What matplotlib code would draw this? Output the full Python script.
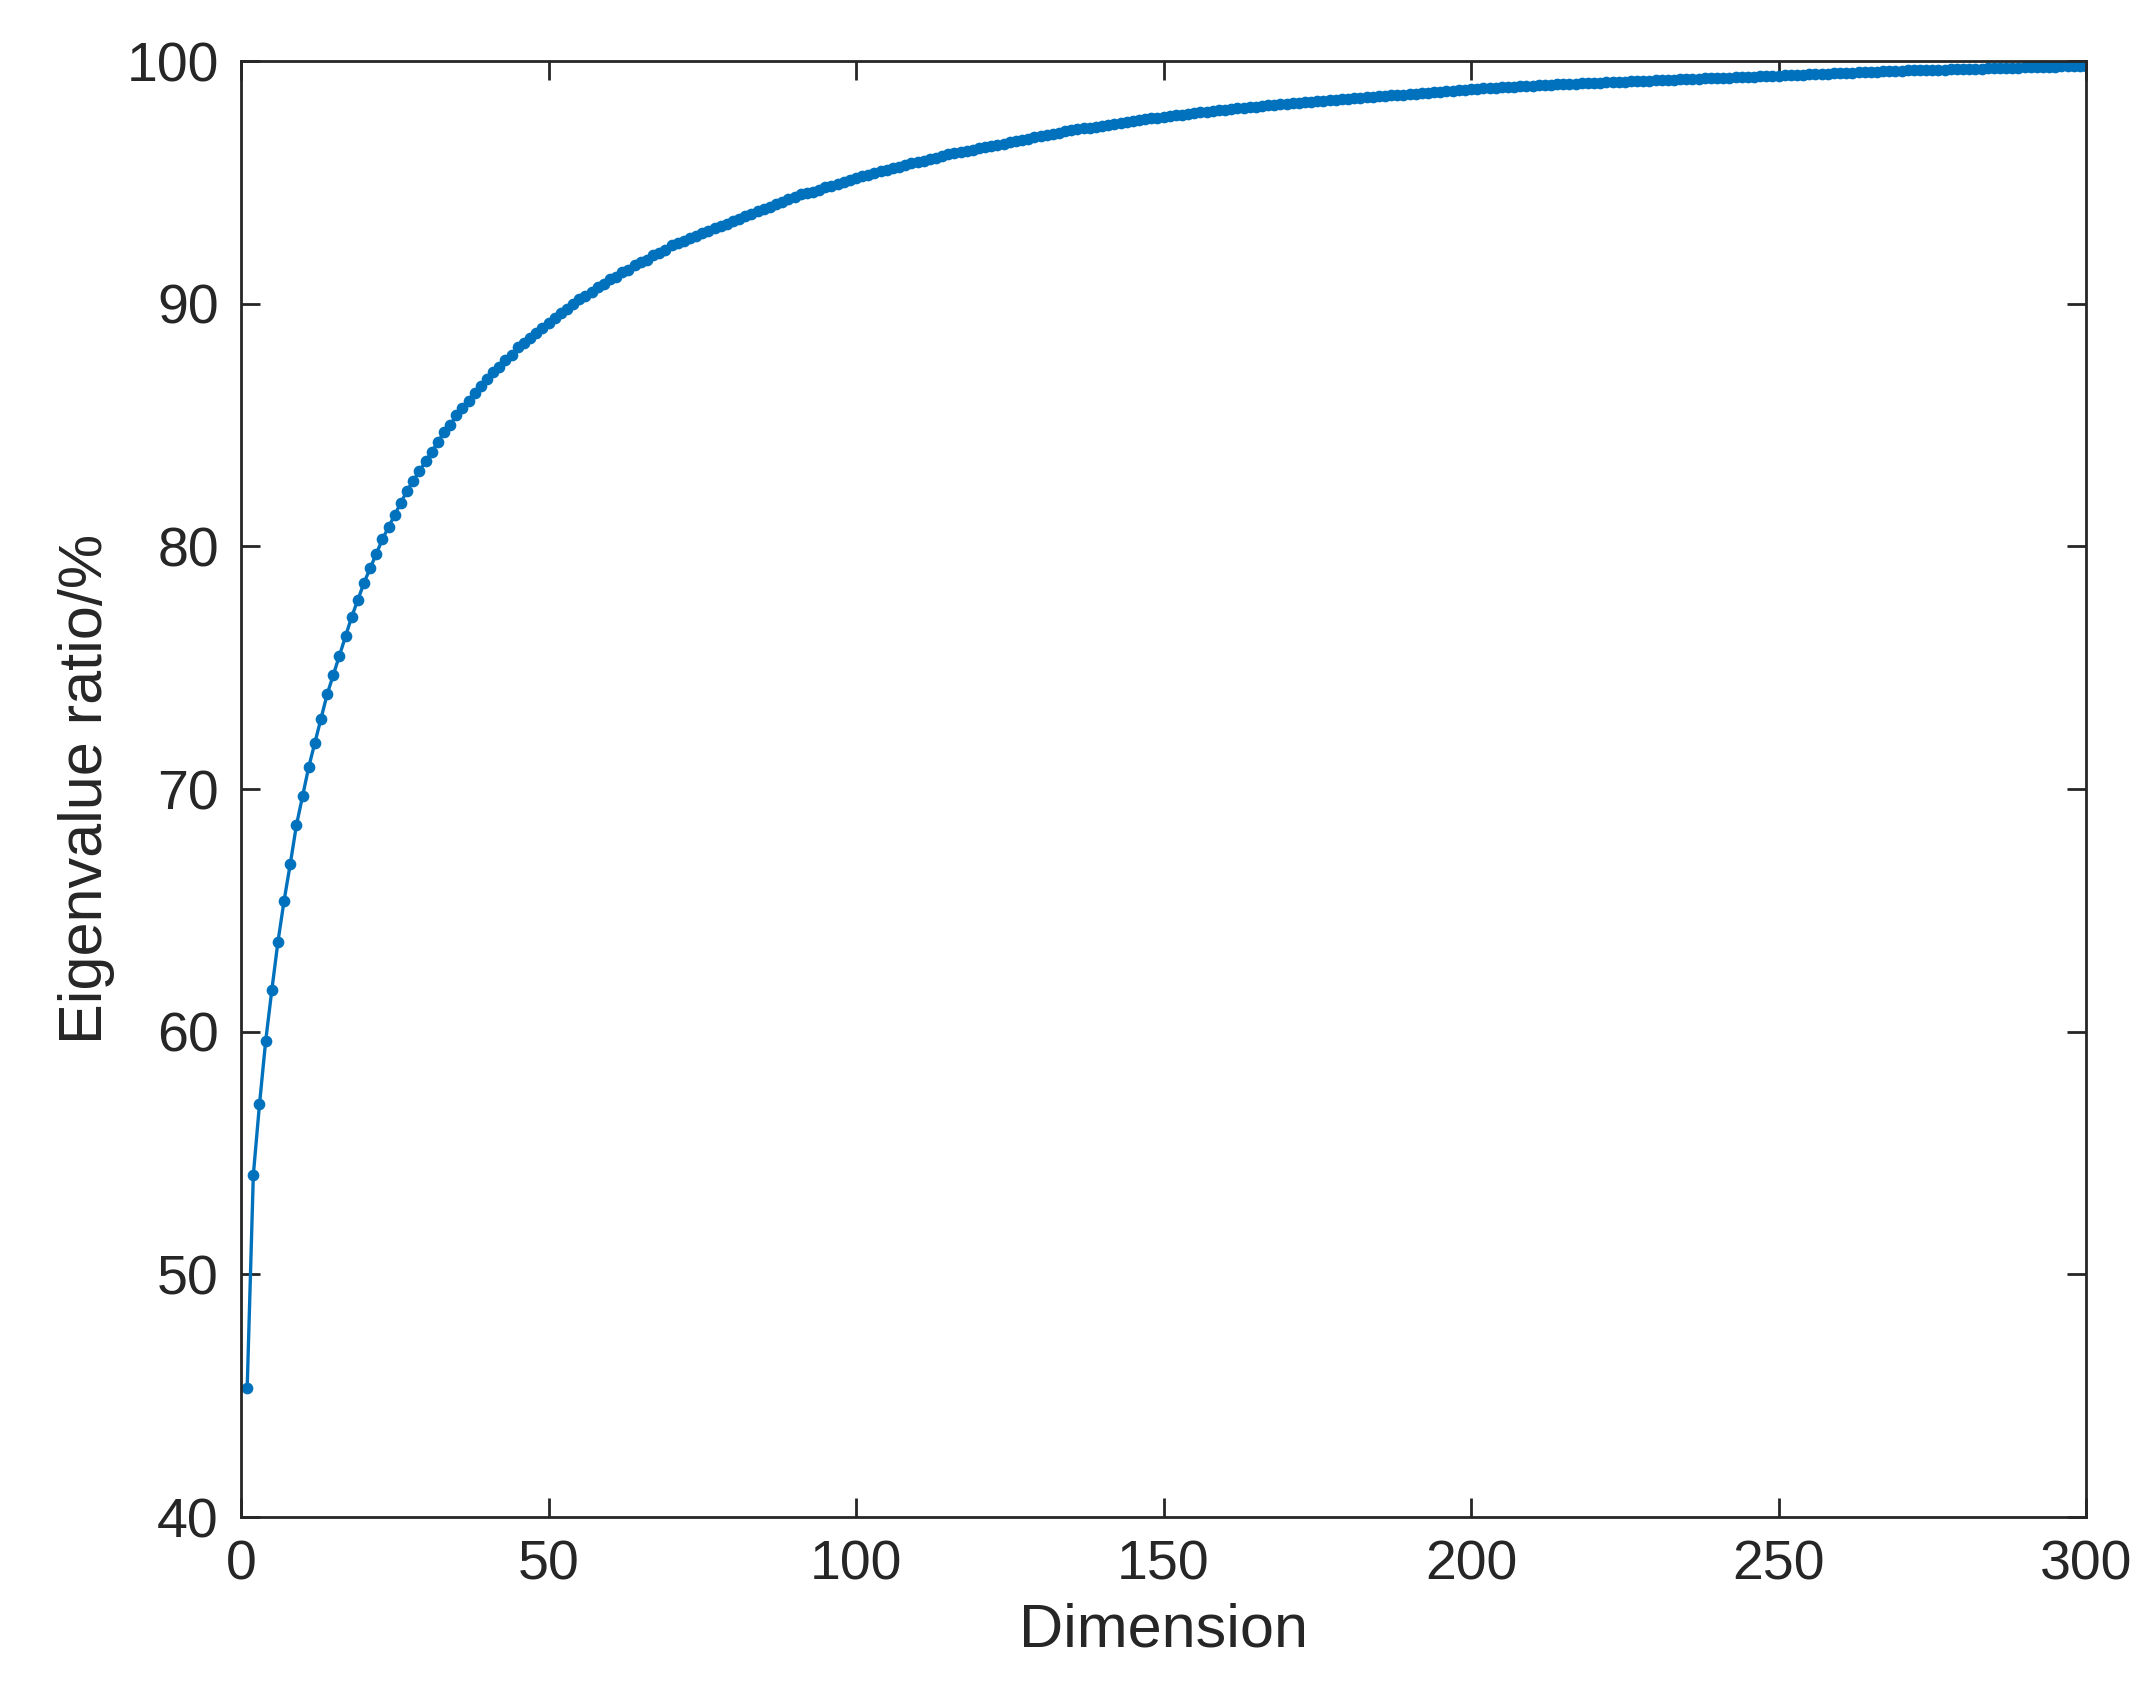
import numpy as np
import matplotlib.pyplot as plt

plt.rcParams['font.family'] = ['Liberation Sans', 'DejaVu Sans']

# cumulative eigenvalue ratio (%), dimensions 1..300
ratio = [
    45.3, 54.1, 57.0, 59.6, 61.7, 63.7, 65.4, 66.9, 68.5, 69.7,
    70.9, 71.9, 72.9, 73.9, 74.7, 75.5, 76.3, 77.1, 77.8, 78.5,
    79.1, 79.7, 80.3, 80.8, 81.3, 81.8, 82.3, 82.7, 83.1, 83.5,
    83.9, 84.3, 84.7, 85.0, 85.4, 85.7, 86.0, 86.3, 86.6, 86.9,
    87.2, 87.4, 87.7, 87.9, 88.2, 88.4, 88.6, 88.8, 89.0, 89.2,
    89.4, 89.6, 89.8, 90.0, 90.2, 90.3, 90.5, 90.7, 90.8, 91.0,
    91.1, 91.3, 91.4, 91.6, 91.7, 91.8, 92.0, 92.1, 92.2, 92.4,
    92.5, 92.6, 92.7, 92.8, 92.9, 93.0, 93.1, 93.2, 93.3, 93.4,
    93.5, 93.6, 93.7, 93.8, 93.9, 94.0, 94.1, 94.2, 94.3, 94.4,
    94.5, 94.55, 94.6, 94.7, 94.8, 94.85, 94.95, 95.0, 95.1, 95.2,
    95.25, 95.3, 95.4, 95.45, 95.5, 95.6, 95.65, 95.7, 95.8, 95.85,
    95.9, 95.95, 96.0, 96.1, 96.15, 96.2, 96.25, 96.3, 96.35, 96.4,
    96.45, 96.5, 96.55, 96.6, 96.65, 96.7, 96.75, 96.8, 96.85, 96.9,
    96.95, 97.0, 97.05, 97.1, 97.14, 97.18, 97.22, 97.26, 97.3, 97.34,
    97.38, 97.42, 97.46, 97.5, 97.54, 97.57, 97.6, 97.64, 97.67, 97.7,
    97.73, 97.76, 97.79, 97.82, 97.85, 97.88, 97.91, 97.94, 97.97, 98.0,
    98.02, 98.05, 98.07, 98.1, 98.12, 98.15, 98.17, 98.2, 98.22, 98.24,
    98.26, 98.28, 98.3, 98.32, 98.34, 98.36, 98.38, 98.4, 98.42, 98.44,
    98.46, 98.48, 98.5, 98.52, 98.54, 98.56, 98.58, 98.6, 98.62, 98.64,
    98.66, 98.68, 98.7, 98.72, 98.74, 98.76, 98.78, 98.8, 98.82, 98.84,
    98.86, 98.87, 98.89, 98.9, 98.92, 98.93, 98.95, 98.96, 98.98, 98.99,
    99.0, 99.01, 99.02, 99.04, 99.05, 99.06, 99.07, 99.08, 99.09, 99.1,
    99.11, 99.12, 99.13, 99.14, 99.15, 99.16, 99.17, 99.18, 99.19, 99.2,
    99.21, 99.22, 99.23, 99.24, 99.25, 99.26, 99.27, 99.28, 99.29, 99.3,
    99.31, 99.32, 99.33, 99.34, 99.35, 99.36, 99.37, 99.38, 99.39, 99.4,
    99.41, 99.42, 99.43, 99.44, 99.45, 99.46, 99.47, 99.48, 99.49, 99.5,
    99.51, 99.52, 99.53, 99.54, 99.55, 99.56, 99.57, 99.58, 99.59, 99.6,
    99.61, 99.62, 99.62, 99.63, 99.64, 99.64, 99.65, 99.66, 99.66, 99.67,
    99.68, 99.68, 99.69, 99.7, 99.7, 99.71, 99.72, 99.72, 99.73, 99.74,
    99.74, 99.75, 99.76, 99.76, 99.77, 99.78, 99.78, 99.79, 99.8, 99.8,
]
dims = np.arange(1, len(ratio) + 1)

fig = plt.figure(figsize=(10.665, 8.475), dpi=200)
ax = fig.add_axes([0.113, 0.105, 0.865, 0.859])
ax.plot(dims, ratio, "-o", color="#0072BD", lw=1.2, ms=3.2)

ax.set_xlim(0, 300)
ax.set_ylim(40, 100)
ax.set_xticks(range(0, 301, 50))
ax.set_yticks(range(40, 101, 10))
ax.tick_params(direction="in", top=True, right=True, length=7, width=1,
               labelsize=20, colors="#262626", pad=8)
for s in ax.spines.values():
    s.set_linewidth(1)
    s.set_color("#262626")
ax.set_xlabel("Dimension", fontsize=22, color="#262626")
ax.set_ylabel("Eigenvalue ratio/%", fontsize=22, color="#262626")

fig.savefig("out.png", dpi=200)
